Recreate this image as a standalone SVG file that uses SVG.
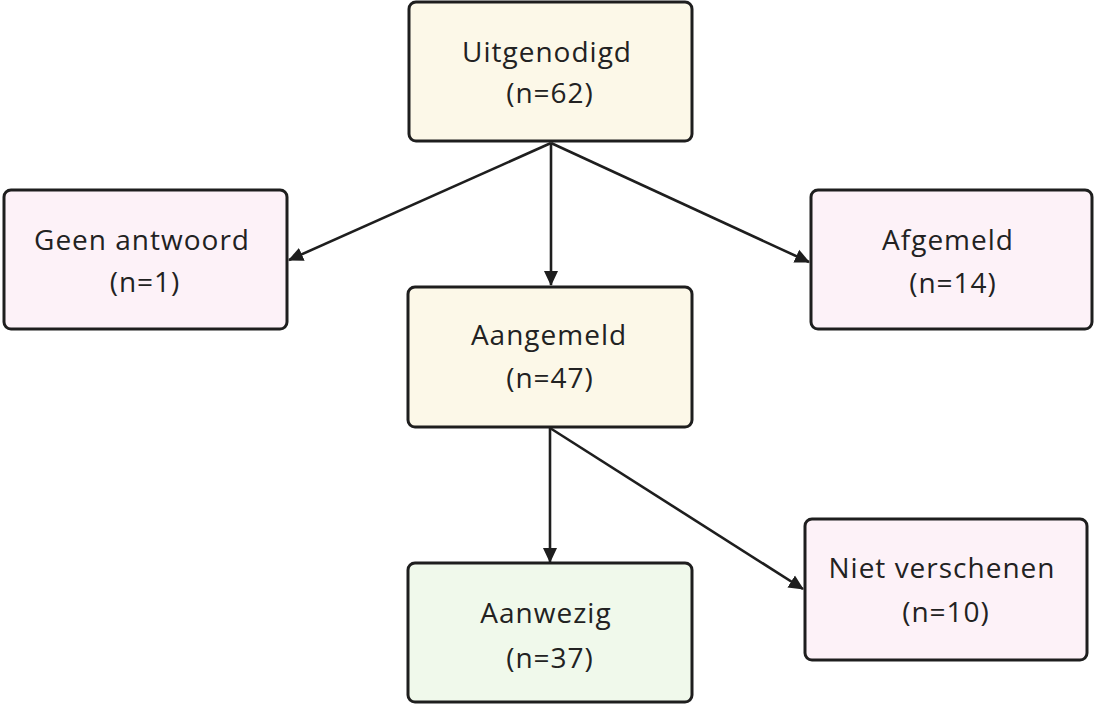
<svg xmlns="http://www.w3.org/2000/svg" width="1094" height="704" viewBox="0 0 1094 704">
  <style>
    .box { stroke: #1e1e1e; stroke-width: 3; }
    .yellow { fill: #fcf8e8; }
    .pink { fill: #fdf2f8; }
    .green { fill: #f0f9eb; }
    .label { font-family: "Open Sans", "Liberation Sans", sans-serif; font-size: 28px; letter-spacing: 1px; fill: #222222; text-anchor: middle; }
    .edge { stroke: #1e1e1e; stroke-width: 2.6; fill: none; marker-end: url(#arrow); }
  </style>
  <defs>
    <marker id="arrow" markerWidth="16" markerHeight="16" refX="14" refY="7" orient="auto" markerUnits="userSpaceOnUse" viewBox="0 0 16 14">
      <path d="M0,0 L15,7 L0,14 z" fill="#1e1e1e"/>
    </marker>
  </defs>
  <rect width="1094" height="704" fill="#ffffff"/>

  <g id="connectors">
    <line class="edge" x1="551" y1="143" x2="289" y2="260"/>
    <line class="edge" x1="551" y1="143" x2="551" y2="285"/>
    <line class="edge" x1="551" y1="143" x2="809" y2="262"/>
    <line class="edge" x1="550" y1="428" x2="550" y2="562"/>
    <line class="edge" x1="550" y1="428" x2="803" y2="589"/>
  </g>

  <g id="uitgenodigd">
    <rect class="box yellow" x="409" y="2" width="283" height="139" rx="7"/>
    <text class="label" x="547" y="62">Uitgenodigd</text>
    <text class="label" x="550" y="103">(n=62)</text>
  </g>

  <g id="geen-antwoord">
    <rect class="box pink" x="4" y="190" width="283" height="139" rx="7"/>
    <text class="label" x="142" y="250">Geen antwoord</text>
    <text class="label" x="145" y="292">(n=1)</text>
  </g>

  <g id="afgemeld">
    <rect class="box pink" x="811" y="190" width="281" height="139" rx="7"/>
    <text class="label" x="948" y="250">Afgemeld</text>
    <text class="label" x="953" y="293">(n=14)</text>
  </g>

  <g id="aangemeld">
    <rect class="box yellow" x="408" y="287" width="284" height="140" rx="7"/>
    <text class="label" x="549" y="345">Aangemeld</text>
    <text class="label" x="550" y="388">(n=47)</text>
  </g>

  <g id="aanwezig">
    <rect class="box green" x="408" y="563" width="284" height="139" rx="7"/>
    <text class="label" x="546" y="623">Aanwezig</text>
    <text class="label" x="550" y="668">(n=37)</text>
  </g>

  <g id="niet-verschenen">
    <rect class="box pink" x="805" y="519" width="282" height="141" rx="7"/>
    <text class="label" x="942" y="578">Niet verschenen</text>
    <text class="label" x="946" y="622">(n=10)</text>
  </g>
</svg>
